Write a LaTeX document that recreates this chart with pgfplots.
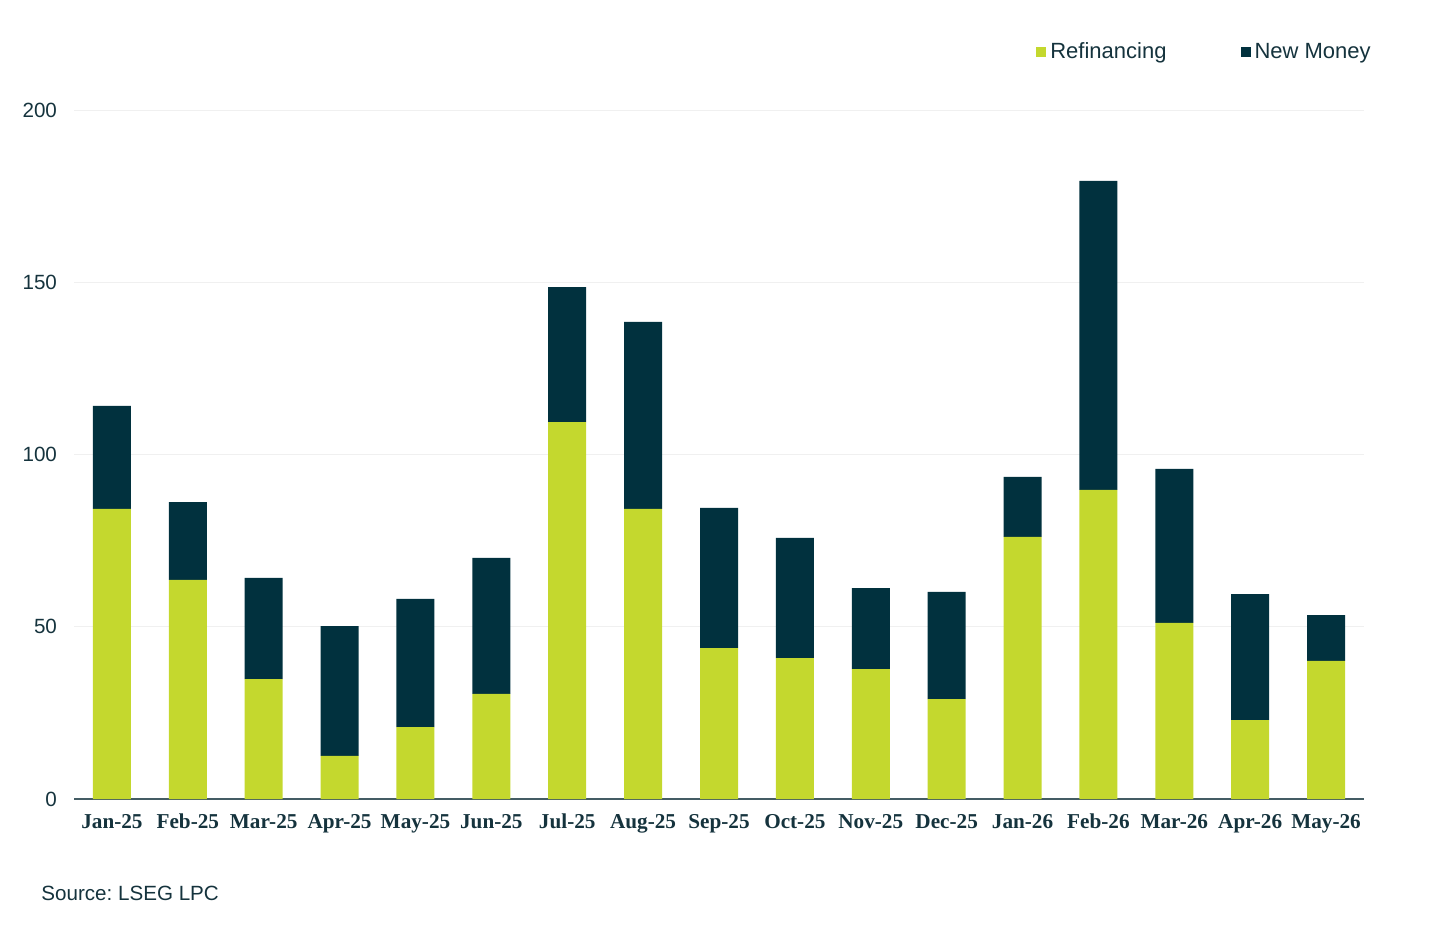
\documentclass[border=0pt]{standalone}
\usepackage{fontspec}
\setmainfont{Liberation Sans}
\newfontfamily\serifb{Liberation Serif}
\usepackage{pgfplots}
\pgfplotsset{compat=1.18}
\definecolor{refi}{HTML}{C4D82E}
\definecolor{newm}{HTML}{01313E}
\definecolor{txt}{HTML}{15333D}
\frenchspacing
\begin{document}
\begin{tikzpicture}
\useasboundingbox (0,0) rectangle (720pt,474.5pt);
\begin{axis}[
  at={(37pt,75pt)}, anchor=south west,
  scale only axis, width=645pt, height=344.5pt,
  ybar stacked, bar width=19pt,
  xmin=-0.5, xmax=16.5, ymin=0, ymax=200,
  xtick=data,
  xticklabels={Jan-25,Feb-25,Mar-25,Apr-25,May-25,Jun-25,Jul-25,Aug-25,Sep-25,Oct-25,Nov-25,Dec-25,Jan-26,Feb-26,Mar-26,Apr-26,May-26},
  ytick={0,50,100,150,200},
  ymajorgrids, grid style={color=black!6, line width=0.5pt},
  axis x line=bottom, axis y line=left,
  x axis line style={-, color=txt!80, line width=0.6pt},
  y axis line style={draw=none},
  major tick length=0pt, tick style={draw=none},
  x tick label style={font=\serifb\bfseries\fontsize{10.6}{12}\selectfont, text=txt,
    anchor=base, yshift=-14.5pt},
  y tick label style={font=\fontsize{10.3}{12}\selectfont, text=txt, xshift=-5pt},
  /pgf/number format/assume math mode=true,
  legend style={at={(rel axis cs:0.7457,1.0835)}, anchor=west, draw=none, inner sep=0pt,
    font=\fontsize{11}{13}\selectfont, text=txt, legend columns=2,
    /tikz/every even column/.append style={column sep=35pt}},
  legend image code/.code={\fill[#1] (0pt,-2.5pt) rectangle (5pt,2.5pt);},
]
\addplot[fill=refi, draw=none] coordinates {
(0,84.2) (1,63.6) (2,34.8) (3,12.5) (4,20.9) (5,30.5) (6,109.4) (7,84.2) (8,43.8) (9,40.9) (10,37.7) (11,29.0) (12,76.1) (13,89.7) (14,51.1) (15,22.9) (16,40.1)};
\addplot[fill=newm, draw=none] coordinates {
(0,29.9) (1,22.6) (2,29.4) (3,37.7) (4,37.2) (5,39.5) (6,39.2) (7,54.3) (8,40.7) (9,34.9) (10,23.5) (11,31.1) (12,17.4) (13,89.7) (14,44.7) (15,36.6) (16,13.3)};
\legend{Refinancing,New Money}
\end{axis}
\node[anchor=base west, inner sep=0pt, text=txt, font=\fontsize{10.3}{12}\selectfont] at (20.5pt,24.5pt) {Source: LSEG LPC};
\end{tikzpicture}
\end{document}
